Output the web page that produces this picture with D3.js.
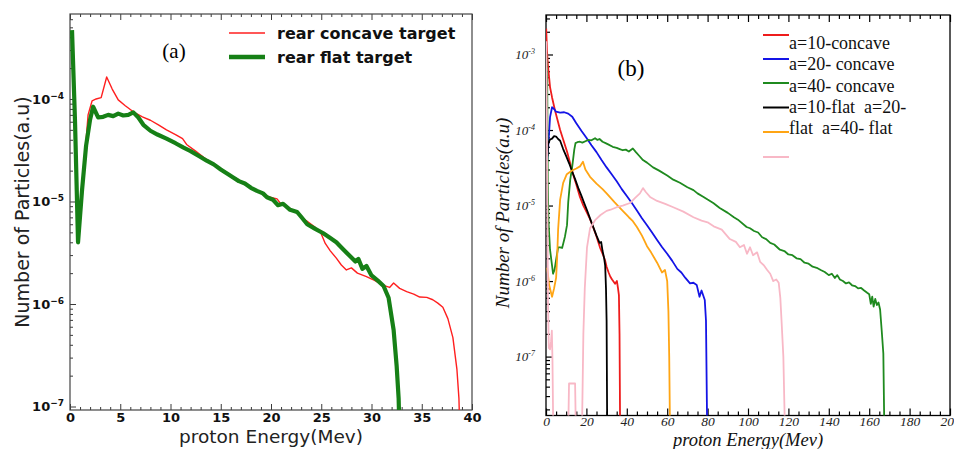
<!DOCTYPE html>
<html>
<head>
<meta charset="utf-8">
<script src="https://cdn.jsdelivr.net/npm/d3@7"></script>
<style>
  body { margin: 0; background: #fff; }
  svg { display: block; }
</style>
</head>
<body>
<svg id="chart" width="954" height="449"></svg>
<script>
// ---------- Panel (a): rear concave vs rear flat target ----------
const aXTicks = [0, 5, 10, 15, 20, 25, 30, 35, 40];
const aYExponents = [-7, -6, -5, -4];
const aLegend = ["rear concave target", "rear flat target"];

// [energy (MeV), number of particles (a.u.)]
const aConcave = [[1.2,1.3e-5],[1.5,3.0e-5],[1.8,7.0e-5],[2.2,9.6e-5],[2.6,1.0e-4],[3.1,1.03e-4],[3.65,1.64e-4],[4.2,1.25e-4],[4.8,9.8e-5],[5.5,8.6e-5],[6.3,7.5e-5],[7.2,6.7e-5],[8.0,6.2e-5],[8.8,5.6e-5],[9.6,5.0e-5],[10.5,4.5e-5],[11.2,4.1e-5],[11.6,3.6e-5],[12.5,3.1e-5],[13.3,2.7e-5],[14.2,2.35e-5],[15.0,2.1e-5],[16.0,1.8e-5],[16.9,1.6e-5],[17.5,1.45e-5],[18.0,1.38e-5],[19.0,1.22e-5],[19.9,1.1e-5],[20.6,1.06e-5],[21.0,9.4e-6],[21.6,8.9e-6],[22.2,8.2e-6],[22.8,7.4e-6],[23.5,6.5e-6],[24.3,5.7e-6],[24.9,5.1e-6],[25.4,3.9e-6],[25.9,3.3e-6],[26.5,2.8e-6],[27.0,2.4e-6],[27.5,2.15e-6],[28.0,2.25e-6],[28.6,2.0e-6],[29.5,1.85e-6],[30.3,1.7e-6],[31.2,1.52e-6],[31.8,1.45e-6],[32.2,1.6e-6],[32.8,1.42e-6],[33.5,1.32e-6],[34.2,1.25e-6],[34.8,1.17e-6],[35.5,1.16e-6],[36.1,1.1e-6],[36.6,1.02e-6],[37.1,9.3e-7],[37.6,7.2e-7],[38.1,4.7e-7],[38.5,2.3e-7],[38.7,1.2e-7],[38.8,5e-8]];

const aFlat = [[0.2,4.7e-4],[0.5,6e-5],[0.8,4.0e-6],[1.2,1.3e-5],[1.6,3.5e-5],[2.0,6.3e-5],[2.3,8.4e-5],[2.8,6.6e-5],[3.3,6.7e-5],[3.8,7.0e-5],[4.3,6.8e-5],[4.8,7.2e-5],[5.3,6.9e-5],[5.8,7.0e-5],[6.3,7.4e-5],[6.8,6.6e-5],[7.3,5.6e-5],[8.0,4.9e-5],[8.7,4.5e-5],[9.6,4.1e-5],[10.5,3.7e-5],[11.3,3.35e-5],[12.0,3.1e-5],[12.9,2.75e-5],[13.6,2.5e-5],[14.3,2.3e-5],[15.0,2.05e-5],[15.7,1.85e-5],[16.2,1.72e-5],[16.8,1.58e-5],[17.4,1.5e-5],[18.0,1.36e-5],[18.6,1.27e-5],[19.2,1.2e-5],[19.6,1.1e-5],[20.2,1.04e-5],[20.7,9.2e-6],[21.2,9.5e-6],[21.9,8.3e-6],[22.6,7.9e-6],[23.1,6.9e-6],[23.6,6.0e-6],[24.4,5.4e-6],[25.2,4.9e-6],[25.9,4.4e-6],[26.5,4.0e-6],[27.2,3.4e-6],[27.9,2.9e-6],[28.4,2.6e-6],[28.7,2.75e-6],[29.1,2.2e-6],[29.5,2.35e-6],[30.0,1.9e-6],[30.6,1.7e-6],[31.2,1.5e-6],[31.7,1.15e-6],[32.2,5.6e-7],[32.5,2.5e-7],[32.7,1.2e-7],[32.8,5e-8]];

// ---------- Panel (b): laser amplitude scan ----------
const bXTicks = [0, 20, 40, 60, 80, 100, 120, 140, 160, 180, 200];
const bYExponents = [-7, -6, -5, -4, -3];
const bLegend = ["a=10-concave", "a=20- concave", "a=40- concave", "a=10-flat  a=20-", "flat  a=40- flat", ""];

const b10Concave = [[0.1,2.2e-3],[0.5,1.1e-3],[1.0,7e-4],[2.0,3.7e-4],[3.0,2.7e-4],[4.5,1.8e-4],[7.0,1.0e-4],[8.5,7.5e-5],[10.4,5.2e-5],[12.0,3.6e-5],[13.4,2.6e-5],[15.0,1.9e-5],[16.8,1.3e-5],[18.5,1.0e-5],[20.0,8.3e-6],[21.8,6.6e-6],[23.3,5.2e-6],[25.0,3.9e-6],[26.7,2.8e-6],[28.3,2.2e-6],[29.2,1.9e-6],[30.0,1.55e-6],[31.0,1.3e-6],[31.8,1.15e-6],[32.7,1.05e-6],[33.5,9.8e-7],[34.2,9.2e-7],[35.1,1.0e-6],[35.6,8.2e-7],[36.1,6.5e-7],[36.4,2e-7],[36.7,1e-8]];

const b20Concave = [[0.7,4e-5],[1.0,5.4e-5],[2.0,1.48e-4],[3.0,2.0e-4],[4.0,1.9e-4],[5.0,1.75e-4],[7.0,1.7e-4],[9.0,1.72e-4],[11.0,1.65e-4],[13.0,1.5e-4],[15.0,1.23e-4],[17.5,9.8e-5],[20.0,7.9e-5],[22.5,6.3e-5],[25.0,5.1e-5],[27.5,4.0e-5],[30.0,3.2e-5],[32.5,2.6e-5],[35.0,2.1e-5],[37.5,1.65e-5],[40.0,1.34e-5],[42.5,1.08e-5],[45.0,8.6e-6],[47.5,6.8e-6],[50.0,5.5e-6],[52.5,4.4e-6],[55.0,3.5e-6],[57.5,2.8e-6],[60.0,2.3e-6],[62.5,1.85e-6],[65.0,1.45e-6],[67.0,1.3e-6],[69.0,1.1e-6],[71.3,9.3e-7],[73.0,9.5e-7],[74.6,8.9e-7],[76.0,6.2e-7],[77.0,7.5e-7],[77.8,6.5e-7],[78.6,5.6e-7],[79.2,3e-7],[79.8,1e-8]];

const b40Concave = [[0.1,1.1e-3],[0.6,4.5e-4],[0.9,2e-5],[1.2,6.4e-6],[2.0,2.6e-6],[3.0,1.6e-6],[3.5,1.25e-6],[4.2,1.4e-6],[5.0,1.9e-6],[6.0,2.8e-6],[7.0,2.8e-6],[8.0,2.75e-6],[9.4,3.9e-6],[10.4,5.5e-6],[11.0,1.1e-5],[12.0,2.2e-5],[13.0,3.3e-5],[14.0,5.5e-5],[14.6,6.7e-5],[15.5,6.9e-5],[16.8,7.0e-5],[18.0,6.8e-5],[19.5,7.1e-5],[21.0,7.4e-5],[22.5,7.3e-5],[24.3,7.8e-5],[25.5,7.4e-5],[26.5,7.6e-5],[28.0,7.0e-5],[29.5,6.7e-5],[31.0,6.4e-5],[33.0,6.0e-5],[35.0,5.8e-5],[36.5,5.6e-5],[38.0,5.4e-5],[39.5,5.5e-5],[41.0,5.2e-5],[43.0,5.7e-5],[44.5,5.1e-5],[46.0,4.6e-5],[48.0,4.0e-5],[50.0,3.7e-5],[53.0,3.2e-5],[56.0,2.9e-5],[60.0,2.5e-5],[63.0,2.2e-5],[66.3,2.0e-5],[70.0,1.75e-5],[73.0,1.6e-5],[75.0,1.45e-5],[78.0,1.3e-5],[80.0,1.2e-5],[82.8,1.08e-5],[86.0,9.3e-6],[90.0,8.0e-6],[93.0,7.0e-6],[95.0,6.5e-6],[99.3,5.2e-6],[101.0,5.0e-6],[103.0,4.6e-6],[105.0,4.4e-6],[107.0,3.8e-6],[109.0,3.6e-6],[111.0,3.2e-6],[113.0,3.05e-6],[115.8,2.6e-6],[118.0,2.5e-6],[120.0,2.25e-6],[122.0,2.2e-6],[124.0,2.0e-6],[126.0,1.95e-6],[128.0,1.75e-6],[130.0,1.7e-6],[132.0,1.55e-6],[134.0,1.5e-6],[136.0,1.4e-6],[138.0,1.32e-6],[140.0,1.2e-6],[141.5,1.25e-6],[143.0,1.1e-6],[144.2,1.2e-6],[145.5,1.05e-6],[147.0,1.0e-6],[148.5,9.3e-7],[150.0,9.6e-7],[151.5,8.8e-7],[153.0,8.6e-7],[154.5,8.0e-7],[156.0,8.1e-7],[157.5,7.5e-7],[159.0,7.0e-7],[160.0,6.7e-7],[160.8,5.0e-7],[161.5,6.2e-7],[162.2,4.6e-7],[163.0,5.8e-7],[163.8,4.8e-7],[164.6,5.2e-7],[165.4,4.2e-7],[166.2,2.2e-7],[167.0,1.1e-7],[167.5,1e-8]];

const b10Flat = [[0.7,4.5e-5],[1.0,6.5e-5],[2.0,7.5e-5],[3.0,7.7e-5],[4.0,8.3e-5],[5.0,8.2e-5],[6.0,7.6e-5],[7.0,7.2e-5],[8.5,5.6e-5],[10.0,4.5e-5],[11.5,3.6e-5],[13.0,2.8e-5],[14.5,2.2e-5],[16.0,1.7e-5],[17.5,1.35e-5],[19.0,1.06e-5],[20.5,8.4e-6],[22.0,6.5e-6],[23.5,5.1e-6],[25.0,4.0e-6],[26.5,3.2e-6],[27.3,3.3e-6],[28.0,2.5e-6],[28.8,2.0e-6],[29.3,1.6e-6],[29.7,8e-7],[30.0,3e-7],[30.3,1e-8]];

const b20Flat = [[0.6,1.5e-6],[1.5,9e-7],[3.0,6.2e-7],[4.0,8e-7],[5.0,1.1e-6],[5.5,2e-6],[6.0,4.8e-6],[7.0,1.2e-5],[8.5,2.0e-5],[10.3,2.6e-5],[12.0,2.8e-5],[13.4,2.95e-5],[15.0,3.1e-5],[16.8,3.3e-5],[18.3,3.8e-5],[19.5,3.0e-5],[21.8,2.4e-5],[25.0,1.95e-5],[28.0,1.65e-5],[30.0,1.45e-5],[34.0,1.1e-5],[38.0,8.5e-6],[41.0,7.0e-6],[43.0,6.2e-6],[45.0,5.2e-6],[47.5,4.0e-6],[50.0,2.9e-6],[52.0,2.4e-6],[55.0,1.75e-6],[57.4,1.3e-6],[58.9,1.4e-6],[60.0,1.0e-6],[60.6,4e-7],[61.0,1e-7],[61.4,1e-8]];

const b40Flat = [[0.1,1.5e-3],[0.4,2e-4],[0.7,1e-5],[1.0,5e-7],[1.4,1.3e-7],[2.0,1.25e-7],[2.5,1.6e-7],[2.9,2.2e-7],[3.2,9e-8],[3.6,1e-8],[11.0,1e-8],[11.4,4.4e-8],[14.4,4.4e-8],[14.8,1e-8],[17.8,1e-8],[18.5,2e-7],[19.2,8e-7],[20.3,2.8e-6],[21.8,5.0e-6],[24.3,6.4e-6],[27.0,7.5e-6],[30.0,8.5e-6],[32.0,8.8e-6],[35.0,9.5e-6],[38.0,1.0e-5],[41.6,1.08e-5],[44.0,1.25e-5],[46.5,1.45e-5],[48.0,1.7e-5],[49.5,1.5e-5],[51.5,1.3e-5],[55.0,1.15e-5],[59.0,1.05e-5],[63.0,9.5e-6],[68.0,8.3e-6],[73.0,7.0e-6],[77.0,6.3e-6],[80.0,6.0e-6],[83.0,5.3e-6],[87.0,4.8e-6],[91.0,3.6e-6],[94.0,3.3e-6],[96.0,2.8e-6],[98.0,3.0e-6],[99.5,2.3e-6],[101.0,2.8e-6],[102.5,2.2e-6],[104.5,2.4e-6],[106.0,1.8e-6],[108.0,1.6e-6],[109.5,1.4e-6],[111.0,1.25e-6],[112.5,1.0e-6],[114.0,1.05e-6],[115.2,9.5e-7],[116.0,6e-7],[116.6,3e-7],[117.5,1e-7],[118.3,1e-8]];

const bSeries = [b10Concave, b20Concave, b40Concave, b10Flat, b20Flat, b40Flat];
const bColors = ["#ee1c1c", "#1414e6", "#1f8a1f", "#000000", "#ffa514", "#f8b8c6"];

const svg = d3.select("#chart");

// Minor ticks 2..9 within every decade of a log domain
function logMinors(domain) {
  const out = [];
  const lo = Math.floor(Math.log10(domain[0])), hi = Math.ceil(Math.log10(domain[1]));
  for (let e = lo; e <= hi; e++) for (let k = 2; k <= 9; k++) {
    const v = k * Math.pow(10, e);
    if (v >= domain[0] && v <= domain[1]) out.push(v);
  }
  return out;
}

// Replace tick text with "10" and a raised exponent
function powerLabels(g, supSize, minus, supDy) {
  g.selectAll(".tick text").each(function (d) {
    const e = Math.round(Math.log10(d));
    const t = d3.select(this).text(null);
    t.append("tspan").text("10");
    t.append("tspan").attr("dy", supDy).attr("font-size", supSize).text(minus + Math.abs(e));
  });
}

// ===================== Panel (a) =====================
{
  const L = 70, R = 472, T = 14, B = 410;
  const x = d3.scaleLinear().domain([0, 40]).range([L, R]);
  const y = d3.scaleLog().domain([Math.pow(10, -7.034), Math.pow(10, -3.171)]).range([B, T]);
  const g = svg.append("g");
  const tickColor = "#3a3a3a";
  const font = "DejaVu Sans, sans-serif";

  g.append("clipPath").attr("id", "clipA").append("rect")
    .attr("x", L).attr("y", T).attr("width", R - L).attr("height", B - T);

  const minorX = d3.range(0, 41).filter(v => v % 5 !== 0);

  // bottom axis
  const bx = g.append("g").attr("transform", `translate(0,${B})`)
    .call(d3.axisBottom(x).tickValues(aXTicks).tickSizeInner(-6).tickSizeOuter(0).tickPadding(3));
  bx.attr("font-family", font).attr("font-size", 13).attr("font-weight", "bold");
  g.append("g").attr("transform", `translate(0,${B})`)
    .call(d3.axisBottom(x).tickValues(minorX).tickSizeInner(-3).tickSizeOuter(0).tickFormat(""));
  // top axis
  g.append("g").attr("transform", `translate(0,${T})`)
    .call(d3.axisTop(x).tickValues(aXTicks).tickSizeInner(-6).tickSizeOuter(0).tickFormat(""));
  g.append("g").attr("transform", `translate(0,${T})`)
    .call(d3.axisTop(x).tickValues(minorX).tickSizeInner(-3).tickSizeOuter(0).tickFormat(""));
  // left axis
  const ly = g.append("g").attr("transform", `translate(${L},0)`)
    .call(d3.axisLeft(y).tickValues(aYExponents.map(e => Math.pow(10, e))).tickSizeInner(-6).tickSizeOuter(0).tickPadding(6));
  ly.attr("font-family", font).attr("font-size", 13).attr("font-weight", "bold");
  powerLabels(ly, 9, "\u2212", "-0.55em");
  g.append("g").attr("transform", `translate(${L},0)`)
    .call(d3.axisLeft(y).tickValues(logMinors(y.domain())).tickSizeInner(-3).tickSizeOuter(0).tickFormat(""));

  g.selectAll(".domain").remove();
  g.selectAll(".tick line").attr("stroke", tickColor);
  g.selectAll(".tick text").attr("fill", "#111");

  g.append("rect").attr("x", L).attr("y", T).attr("width", R - L).attr("height", B - T)
    .attr("fill", "none").attr("stroke", "#444").attr("stroke-width", 1.2);

  const line = d3.line().x(d => x(d[0])).y(d => y(d[1]));
  const plot = g.append("g").attr("clip-path", "url(#clipA)");
  plot.append("path").datum(aConcave).attr("d", line)
    .attr("fill", "none").attr("stroke", "#ff1f1f").attr("stroke-width", 1.4).attr("stroke-linejoin", "round");
  plot.append("path").datum(aFlat).attr("d", line)
    .attr("fill", "none").attr("stroke", "#168016").attr("stroke-width", 4.2).attr("stroke-linejoin", "round");

  // legend
  const lg = g.append("g");
  const lgColors = ["#ff1f1f", "#168016"], lgWidths = [1.5, 4.5], lgY = [33, 57];
  aLegend.forEach((name, i) => {
    lg.append("line").attr("x1", 229).attr("x2", 265).attr("y1", lgY[i]).attr("y2", lgY[i])
      .attr("stroke", lgColors[i]).attr("stroke-width", lgWidths[i]);
    lg.append("text").attr("x", 277).attr("y", lgY[i] + 6).text(name)
      .attr("font-family", font).attr("font-weight", "bold").attr("font-size", 16).attr("fill", "#111");
  });

  g.append("text").attr("x", 174).attr("y", 58).attr("text-anchor", "middle")
    .attr("font-family", "Liberation Serif, serif").attr("font-size", 21).text("(a)");

  g.append("text").attr("x", (L + R) / 2).attr("y", 443).attr("text-anchor", "middle")
    .attr("font-family", font).attr("font-size", 18.5).attr("fill", "#222").text("proton Energy(Mev)");
  g.append("text").attr("transform", `translate(29,${(T + B) / 2}) rotate(-90)`).attr("text-anchor", "middle")
    .attr("font-family", font).attr("font-size", 19).attr("fill", "#222").text("Number of Particles(a.u)");
}

// ===================== Panel (b) =====================
{
  const L = 546, R = 950, T = 15, B = 415.5;
  const x = d3.scaleLinear().domain([0, 200]).range([L, R]);
  const y = d3.scaleLog().domain([Math.pow(10, -7.78), Math.pow(10, -2.477)]).range([B, T]);
  const g = svg.append("g");
  const font = "Liberation Serif, Times New Roman, serif";

  g.append("clipPath").attr("id", "clipB").append("rect")
    .attr("x", L).attr("y", T).attr("width", R - L).attr("height", B - T);

  const minorX = d3.range(0, 201, 5).filter(v => v % 20 !== 0);

  const bx = g.append("g").attr("transform", `translate(0,${B})`)
    .call(d3.axisBottom(x).tickValues(bXTicks).tickSizeInner(-7).tickSizeOuter(0).tickPadding(1));
  bx.attr("font-family", font).attr("font-size", 13.5).attr("font-style", "italic");
  g.append("g").attr("transform", `translate(0,${B})`)
    .call(d3.axisBottom(x).tickValues(minorX).tickSizeInner(-4).tickSizeOuter(0).tickFormat(""));
  g.append("g").attr("transform", `translate(0,${T})`)
    .call(d3.axisTop(x).tickValues(bXTicks).tickSizeInner(-7).tickSizeOuter(0).tickFormat(""));
  g.append("g").attr("transform", `translate(0,${T})`)
    .call(d3.axisTop(x).tickValues(minorX).tickSizeInner(-4).tickSizeOuter(0).tickFormat(""));

  const ly = g.append("g").attr("transform", `translate(${L},0)`)
    .call(d3.axisLeft(y).tickValues(bYExponents.map(e => Math.pow(10, e))).tickSizeInner(-7).tickSizeOuter(0).tickPadding(11));
  ly.attr("font-family", font).attr("font-size", 13).attr("font-style", "italic");
  powerLabels(ly, 8, "-", "-0.6em");
  g.append("g").attr("transform", `translate(${L},0)`)
    .call(d3.axisLeft(y).tickValues(logMinors(y.domain())).tickSizeInner(-4).tickSizeOuter(0).tickFormat(""));

  g.selectAll(".domain").remove();
  g.selectAll(".tick line").attr("stroke", "#000").attr("stroke-width", 1.2);
  g.selectAll(".tick text").attr("fill", "#222");

  g.append("rect").attr("x", L).attr("y", T).attr("width", R - L).attr("height", B - T)
    .attr("fill", "none").attr("stroke", "#000").attr("stroke-width", 1.3);

  const line = d3.line().x(d => x(d[0])).y(d => y(d[1]));
  const plot = g.append("g").attr("clip-path", "url(#clipB)");
  bSeries.forEach((s, i) => {
    plot.append("path").datum(s).attr("d", line)
      .attr("fill", "none").attr("stroke", bColors[i]).attr("stroke-width", 1.8).attr("stroke-linejoin", "round");
  });

  // legend
  const lineY = [35, 59, 83, 107.5, 132, 157];
  const textY = [49, 70, 92, 113, 134, 0];
  bLegend.forEach((name, i) => {
    g.append("line").attr("x1", 763).attr("x2", 789).attr("y1", lineY[i]).attr("y2", lineY[i])
      .attr("stroke", bColors[i]).attr("stroke-width", 2);
    if (name) g.append("text").attr("x", 789).attr("y", textY[i]).text(name)
      .attr("font-family", font).attr("font-size", 18).attr("fill", "#111")
      .style("white-space", "pre");
  });

  g.append("text").attr("x", 631).attr("y", 76).attr("text-anchor", "middle")
    .attr("font-family", font).attr("font-size", 23).text("(b)");

  g.append("text").attr("x", (L + R) / 2).attr("y", 446).attr("text-anchor", "middle")
    .attr("font-family", font).attr("font-size", 18.5).attr("font-style", "italic").attr("fill", "#111")
    .text("proton Energy(Mev)");
  g.append("text").attr("transform", `translate(509,213) rotate(-90)`).attr("text-anchor", "middle")
    .attr("font-family", font).attr("font-size", 19).attr("font-style", "italic").attr("fill", "#111")
    .text("Number of Particles(a.u)");
}
</script>
</body>
</html>
